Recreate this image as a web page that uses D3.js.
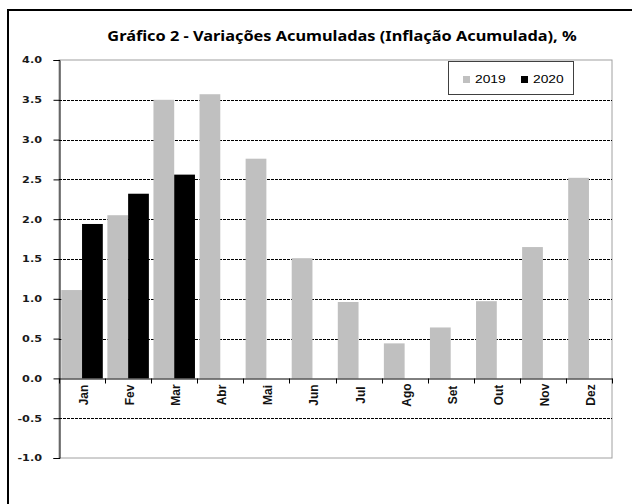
<!DOCTYPE html>
<html>
<head>
<meta charset="utf-8">
<script src="https://cdn.jsdelivr.net/npm/d3@7"></script>
<style>
  body { margin: 0; background: #fff; }
  svg { display: block; }
</style>
</head>
<body>
<div id="chart"></div>
<script>
var months = ["Jan", "Fev", "Mar", "Abr", "Mai", "Jun", "Jul", "Ago", "Set", "Out", "Nov", "Dez"];
var series = ["2019", "2020"];
var v2019 = [1.11, 2.05, 3.50, 3.57, 2.76, 1.51, 0.96, 0.44, 0.64, 0.97, 1.65, 2.52];
var v2020 = [1.94, 2.32, 2.56];
var yTicks = [-1.0, -0.5, 0.0, 0.5, 1.0, 1.5, 2.0, 2.5, 3.0, 3.5, 4.0];
var colors = { "2019": "#c0c0c0", "2020": "#000000" };

var W = 632, H = 504;
var svg = d3.select("#chart").append("svg").attr("width", W).attr("height", H);

// outer frame (cut off at right / bottom like the original)
svg.append("rect")
    .attr("x", 8).attr("y", 10).attr("width", 700).attr("height", 600)
    .attr("fill", "none").attr("stroke", "#000").attr("stroke-width", 2);

var x = d3.scaleBand().domain(months).range([59, 612]).paddingInner(0).paddingOuter(0);
var xs = d3.scaleBand().domain(series).range([0, x.bandwidth()]).paddingInner(0).paddingOuter(0.11);
var y = d3.scaleLinear().domain([-1, 4]).range([458, 60]);

// plot border
svg.append("rect")
    .attr("x", x.range()[0]).attr("y", y(4))
    .attr("width", x.range()[1] - x.range()[0]).attr("height", y(-1) - y(4))
    .attr("fill", "none").attr("stroke", "#a0a0a0").attr("stroke-width", 1);

// dashed gridlines
svg.append("g").selectAll("line")
    .data(yTicks.filter(function(d){ return d !== 0 && d !== 4 && d !== -1; }))
    .enter().append("line")
    .attr("x1", x.range()[0]).attr("x2", x.range()[1])
    .attr("y1", function(d){ return Math.round(y(d)) + 0.5; })
    .attr("y2", function(d){ return Math.round(y(d)) + 0.5; })
    .attr("stroke", "#000").attr("stroke-width", 1)
    .attr("stroke-dasharray", "3,1");

var rows = [];
months.forEach(function(m, i){
  rows.push({ month: m, year: "2019", value: v2019[i] });
  if (i < v2020.length) rows.push({ month: m, year: "2020", value: v2020[i] });
});

svg.append("g").selectAll("rect")
    .data(rows)
    .enter().append("rect")
    .attr("x", function(d){ return x(d.month) + xs(d.year); })
    .attr("width", xs.bandwidth())
    .attr("y", function(d){ return y(Math.max(0, d.value)); })
    .attr("height", function(d){ return Math.abs(y(d.value) - y(0)); })
    .attr("fill", function(d){ return colors[d.year]; });

// y axis
var yAxis = svg.append("g")
    .attr("transform", "translate(59.5,0)")
    .call(d3.axisLeft(y).tickValues(yTicks).tickSize(6).tickFormat(function(d){ return d.toFixed(1); }));
yAxis.select(".domain").attr("stroke", "#000");
yAxis.selectAll(".tick line").attr("stroke", "#000");
yAxis.selectAll(".tick text")
    .attr("x", -14)
    .attr("font-family", "DejaVu Sans")
    .attr("font-weight", "bold")
    .attr("font-size", 9)
    .attr("fill", "#1a1a1a")
    .attr("transform", "scale(1.25,1)");

// x axis at zero
var xAxis = svg.append("g")
    .attr("transform", "translate(0," + (Math.round(y(0)) + 0.5) + ")")
    .call(d3.axisBottom(x).tickSize(0).tickSizeOuter(0));
xAxis.select(".domain").attr("stroke", "#000");
xAxis.selectAll(".tick text").remove();
xAxis.selectAll(".sep")
    .data(d3.range(months.length + 1))
    .enter().append("line")
    .attr("x1", function(i){ return Math.round(x.range()[0] + i * x.step()) + 0.5; })
    .attr("x2", function(i){ return Math.round(x.range()[0] + i * x.step()) + 0.5; })
    .attr("y1", 0).attr("y2", 5)
    .attr("stroke", "#000");

svg.append("g").selectAll("text")
    .data(months)
    .enter().append("text")
    .attr("transform", function(d){ return "translate(" + (x(d) + x.bandwidth() / 2 + 2) + ",395) rotate(-90)"; })
    .attr("text-anchor", "middle")
    .attr("dominant-baseline", "central")
    .attr("font-family", "Liberation Sans, Arial")
    .attr("font-weight", "bold")
    .attr("font-size", 12)
    .attr("fill", "#111")
    .text(function(d){ return d; });

// title
svg.append("text")
    .attr("transform", "translate(342,41) scale(1.21,1)")
    .attr("text-anchor", "middle")
    .attr("font-family", "Noto Sans")
    .attr("font-weight", "bold")
    .attr("font-size", 13.5)
    .attr("fill", "#000")
    .text("Gráfico 2 - Variações Acumuladas (Inflação Acumulada), %");

// legend
var lg = svg.append("g");
lg.append("rect")
    .attr("x", 448.5).attr("y", 61.5).attr("width", 125).attr("height", 33)
    .attr("fill", "#fff").attr("stroke", "#404040").attr("stroke-width", 1);
var lx = [463, 521];
series.forEach(function(s, i){
  lg.append("rect")
      .attr("x", lx[i]).attr("y", 76).attr("width", 7).attr("height", 7)
      .attr("fill", colors[s]);
  lg.append("text")
      .attr("transform", "translate(" + (lx[i] + 12) + ",83) scale(1.2,1)")
      .attr("font-family", "Liberation Sans, Arial")
      .attr("font-size", 11.5)
      .attr("fill", "#000")
      .text(s);
});
</script>
</body>
</html>
